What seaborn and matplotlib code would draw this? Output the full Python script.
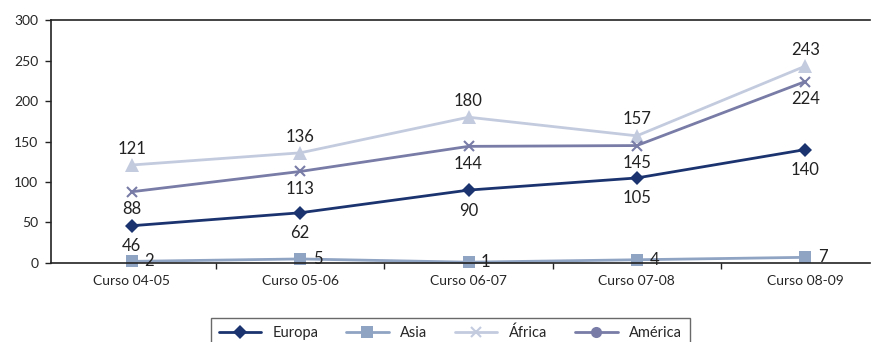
import numpy as np
import pandas as pd
import matplotlib
matplotlib.use("Agg")
import matplotlib.pyplot as plt
import seaborn as sns
from matplotlib.lines import Line2D

sns.set_style("white")
plt.rcParams['font.family'] = ['Lato', 'DejaVu Sans']

# datos
cursos = ["Curso 04-05", "Curso 05-06", "Curso 06-07", "Curso 07-08", "Curso 08-09"]
europa = [46, 62, 90, 105, 140]
asia = [2, 5, 1, 4, 7]
africa = [121, 136, 180, 157, 243]
america = [88, 113, 144, 145, 224]

series = ["Europa", "Asia", "África", "América"]
colores = {"Europa": "#1b3470", "Asia": "#8fa3c3", "África": "#c3cbdf", "América": "#787ca6"}
marcadores = {"Europa": "D", "Asia": "s", "África": "^", "América": "x"}
marc_leyenda = {"Europa": "D", "Asia": "s", "África": "x", "América": "o"}
# posicion de las etiquetas: (dx puntos, dy puntos, ha, va)
pos_etiqueta = {"Europa": (0, -9, "center", "top"),
                "Asia": (9, 0, "left", "center"),
                "África": (0, 6, "center", "bottom"),
                "América": (0, -7, "center", "top")}

df = pd.DataFrame({"curso": cursos * 4,
                   "x": list(range(len(cursos))) * 4,
                   "valor": europa + asia + africa + america,
                   "region": sum([[s] * len(cursos) for s in series], [])})

fig = plt.figure(figsize=(8.78, 3.42), dpi=100)
ax = fig.add_axes([0.058, 0.231, 0.933, 0.7105])

tam = {"D": 7.5, "s": 8.5, "^": 9.5, "x": 7, "o": 8}
for s in series:
    d = df[df.region == s]
    m = marcadores[s]
    sns.lineplot(data=d, x="x", y="valor", color=colores[s], marker=m,
                 markersize=tam[m], markeredgewidth=1.5 if m == "x" else 0,
                 markeredgecolor=colores[s], linewidth=2, ax=ax, legend=False, clip_on=False)
    dx, dy, ha, va = pos_etiqueta[s]
    for xi, v in zip(d.x, d.valor):
        ax.annotate(str(v), (xi, v), xytext=(dx, dy), textcoords="offset points",
                    ha=ha, va=va, fontsize=12, color="#222222")

ax.set_yticks(range(0, 301, 50))
ax.set_xticks(range(len(cursos)))
ax.set_xticklabels(cursos)
ax.set_xticks(np.arange(-0.5, 4.0, 1), minor=True)
ax.set_xlim(-0.481, 4.386)
ax.set_ylim(0, 300)
ax.tick_params(axis="x", which="major", length=0, pad=9, labelsize=10)
ax.tick_params(axis="x", which="minor", length=4, direction="out", width=1, color="#222222", bottom=True)
ax.tick_params(axis="y", length=4, direction="out", width=1, color="#222222", left=True, labelsize=10, pad=5)
ax.set_xlabel("")
ax.set_ylabel("")
for lado in ["left", "bottom", "top"]:
    ax.spines[lado].set_color("#222222")
    ax.spines[lado].set_linewidth(1.2)
ax.spines["right"].set_visible(False)

manejadores = [Line2D([0], [0], color=colores[s], marker=marc_leyenda[s], markersize=tam[marc_leyenda[s]],
                      markeredgewidth=1.5 if marc_leyenda[s] == "x" else 0, markeredgecolor=colores[s],
                      linewidth=2, label=s) for s in series]
leg = fig.legend(handles=manejadores, loc="lower center", bbox_to_anchor=(0.513, -0.04), ncol=4,
                 frameon=True, fancybox=False, edgecolor="#444444", fontsize=10.5,
                 handlelength=2.9, columnspacing=1.9, borderpad=0.55)
leg.get_frame().set_linewidth(1.0)

fig.savefig("out.png", dpi=100)
